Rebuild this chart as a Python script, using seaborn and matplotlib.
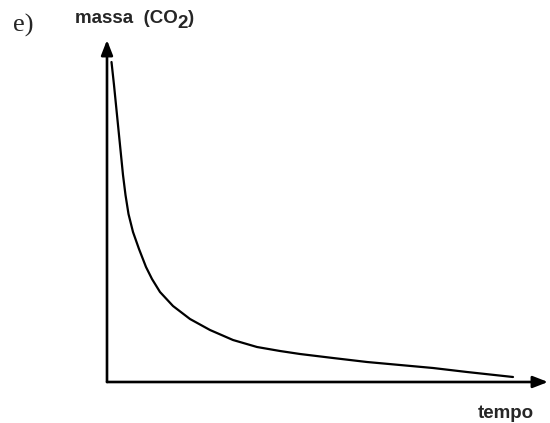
import matplotlib
matplotlib.use("Agg")
import matplotlib.pyplot as plt
import seaborn as sns
import pandas as pd

# values (arbitrary units, origin at the axes corner)
tempo = [4.5, 7, 10, 13, 16, 18.5, 21.5, 26, 32, 39, 45, 53, 66, 83, 103,
         126, 150, 173, 193, 226, 260, 293, 326, 360, 383, 406]
massa = [320, 297, 267, 237, 207, 187, 168, 150, 133, 115, 103, 90, 76, 63, 52,
         42, 35, 31, 28, 24, 20, 17, 14, 10, 7.5, 5]

df = pd.DataFrame({"tempo": tempo, "massa": massa})

sns.set_style("white")

W, H = 550, 423
fig = plt.figure(figsize=(W / 100, H / 100), dpi=100)
# axes box: y axis at x=107px, x axis at y=382px, arrow tips at x=548 / y=40
x0, y0, x1, y1 = 107, 382, 548, 40
ax = fig.add_axes([x0 / W, (H - y0) / H, (x1 - x0) / W, (y0 - y1) / H])
ax.set_xlim(0, x1 - x0)
ax.set_ylim(0, y0 - y1)

sns.lineplot(data=df, x="tempo", y="massa", ax=ax, color="black",
             linewidth=1.6, solid_joinstyle="round")

ax.set_xticks([])
ax.set_yticks([])
ax.set_xlabel("")
ax.set_ylabel("")
for s in ax.spines.values():
    s.set_visible(False)

arrow = dict(arrowstyle="-|>,head_length=0.9,head_width=0.35", color="black",
             lw=1.9, shrinkA=0, shrinkB=0)
ax.annotate("", xy=(1, 0), xytext=(0, 0), xycoords="axes fraction",
            arrowprops=arrow, annotation_clip=False)
ax.annotate("", xy=(0, 1), xytext=(0, 0), xycoords="axes fraction",
            arrowprops=arrow, annotation_clip=False)

# labels
fig.text(13 / W, 1 - 32 / H, "e)", family="Liberation Serif", fontsize=19,
         ha="left", va="baseline")
t1 = fig.text(75 / W, 1 - 23 / H, "massa  (CO", family="Liberation Sans",
              fontweight="bold", fontsize=13.5, ha="left", va="baseline")
a2 = ax.annotate("2", xy=(1, 0), xycoords=t1, xytext=(0, -3.5),
                 textcoords="offset points", family="Liberation Sans",
                 fontweight="bold", fontsize=13.5, ha="left", va="bottom",
                 annotation_clip=False)
ax.annotate(")", xy=(1, 1), xycoords=a2, xytext=(0, 3.5),
            textcoords="offset points", family="Liberation Sans",
            fontweight="bold", fontsize=13.5, ha="left", va="top",
            annotation_clip=False)
fig.text(506 / W, 1 - 418 / H, "tempo", family="Liberation Sans",
         fontweight="bold", fontsize=13.5, ha="center", va="baseline")

fig.savefig("out.png", dpi=100, facecolor="white")
